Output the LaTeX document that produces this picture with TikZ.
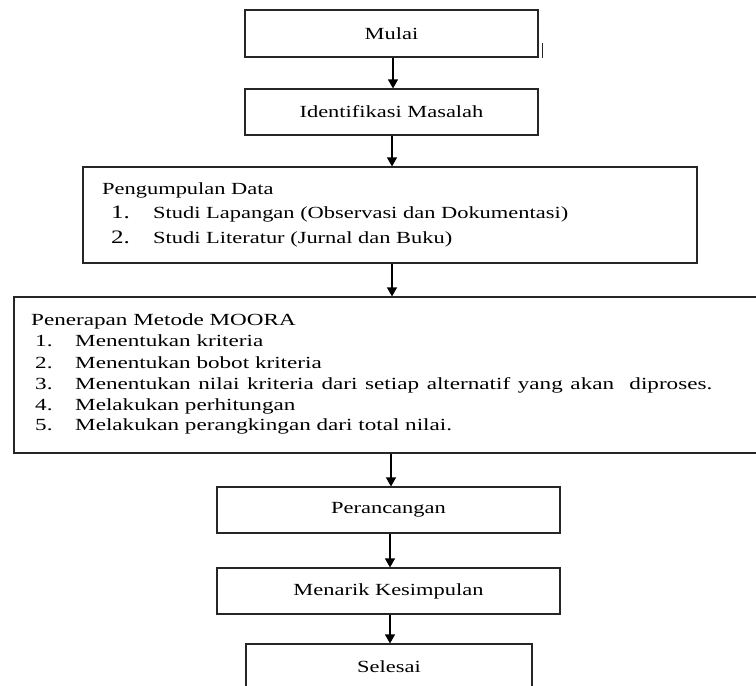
\documentclass[tikz,border=0pt]{standalone}
\usepackage{fontspec}
\setmainfont{Liberation Serif}[FakeStretch=1.32]
\newfontfamily\mooraFont{Liberation Serif}[FakeStretch=1.36]
\usetikzlibrary{arrows.meta}
\begin{document}
\begin{tikzpicture}[x=1pt,y=-1pt,
  box/.style={draw=black!85, line width=1.2pt, inner sep=0pt, rectangle},
  lbl/.style={inner sep=0pt, font=\fontsize{17}{20}\selectfont},
  txt/.style={inner sep=0pt, anchor=base west, font=\fontsize{17}{20}\selectfont},
  mtxt/.style={inner sep=0pt, anchor=base west, font=\mooraFont\fontsize{17}{20}\selectfont},
  bignum/.style={inner sep=0pt, anchor=base west, font=\fontsize{19}{20}\selectfont},
  arr/.style={line width=1.2pt, -{Triangle[width=10pt,length=9pt]}}]
\clip (0,0) rectangle (756,686);
\useasboundingbox (0,0) rectangle (756,686);

% boxes
\node[box, minimum width=293pt, minimum height=47pt, lbl] (mulai) at (391.5,33.5) {Mulai};
\node[box, minimum width=293pt, minimum height=46pt, lbl] (ident) at (391.5,112) {Identifikasi Masalah};
\node[box, minimum width=614pt, minimum height=96pt] (peng) at (390,215) {};
\node[box, minimum width=756pt, minimum height=156pt] (moora) at (392,375) {};
\node[box, minimum width=343pt, minimum height=46pt, lbl] (peran) at (388.5,510) {Perancangan};
\node[box, minimum width=343pt, minimum height=46pt, lbl] (menarik) at (388.5,591) {Menarik Kesimpulan};
\node[box, minimum width=286pt, minimum height=56pt] (selesai) at (389,672) {};
\node[lbl] (selesaiT) at (389,667) {Selesai};

% small tick at Mulai
\draw[line width=1pt, black!85] (mulai.south east) ++(3.5,0) coordinate (tickB) -- ++(0,-15) coordinate (tickC);

% Pengumpulan texts
\node[txt] (pengH) at (102,194) {Pengumpulan Data};
\node[bignum] (pn1) at (111,218) {1.};
\node[txt] (pt1) at (153,218) {Studi Lapangan (Observasi dan Dokumentasi)};
\node[bignum] (pn2) at (111,243) {2.};
\node[txt] (pt2) at (153,243) {Studi Literatur (Jurnal dan Buku)};

% MOORA texts
\node[mtxt] (mH) at (31,325) {Penerapan Metode MOORA};
\node[mtxt] (mn1) at (35,346.5) {1.};
\node[mtxt] (mt1) at (75,346.5) {Menentukan kriteria};
\node[mtxt] (mn2) at (35,368) {2.};
\node[mtxt] (mt2) at (75,368) {Menentukan bobot kriteria};
\node[mtxt] (mn3) at (35,389) {3.};
\node[mtxt] (mt3) at (75,389) {\makebox[637pt][s]{Menentukan nilai kriteria dari setiap alternatif yang akan\ \ diproses.}};
\node[mtxt] (mn4) at (35,410) {4.};
\node[mtxt] (mt4) at (75,410) {Melakukan perhitungan};
\node[mtxt] (mn5) at (35,430) {5.};
\node[mtxt] (mt5) at (75,430) {Melakukan perangkingan dari total nilai.};

% arrows
\draw[arr] (mulai.south -| 393,0) -- (ident.north -| 393,0);
\draw[arr] (ident.south -| 392,0) -- (peng.north -| 392,0);
\draw[arr] (peng.south -| 392,0) -- (moora.north -| 392,0);
\draw[arr] (moora.south -| 391,0) -- (peran.north -| 391,0);
\draw[arr] (peran.south -| 390,0) -- (menarik.north -| 390,0);
\draw[arr] (menarik.south -| 390,0) -- (selesai.north -| 390,0);
\end{tikzpicture}
\end{document}
